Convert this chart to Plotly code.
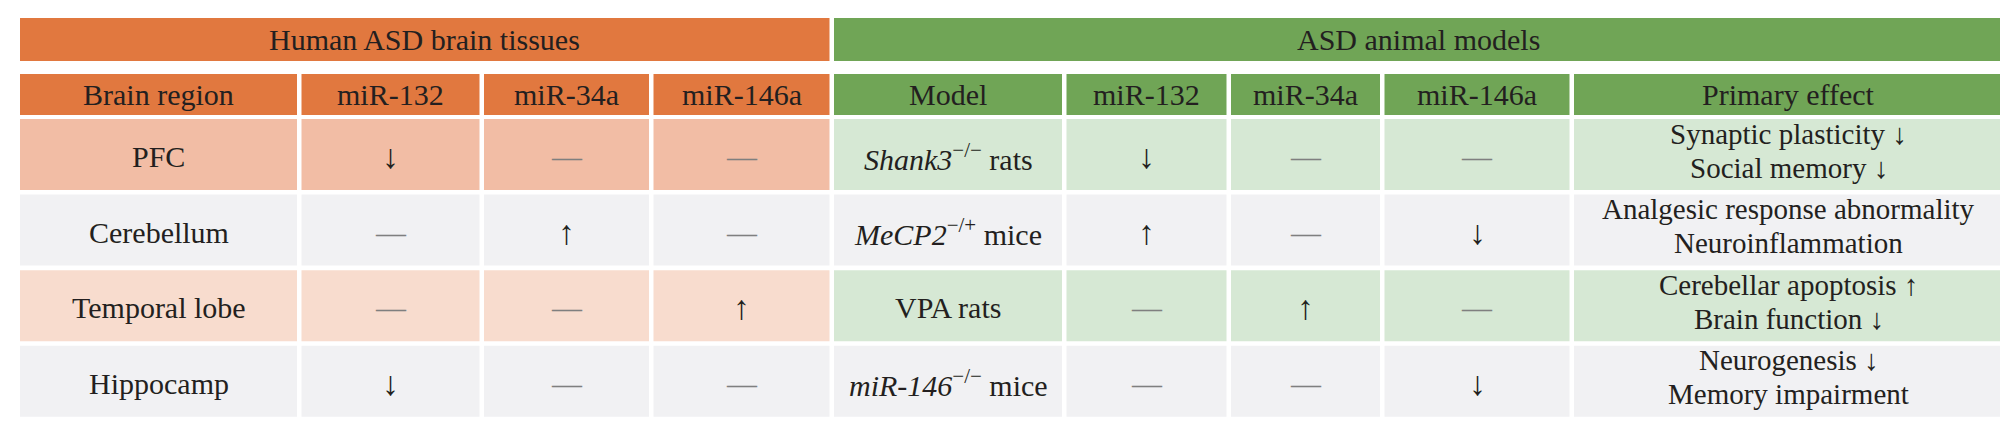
import plotly.graph_objects as go

# Données du tableau
group_titles = ["Human ASD brain tissues", "ASD animal models"]
column_titles = ["Brain region", "miR-132", "miR-34a", "miR-146a",
                 "Model", "miR-132", "miR-34a", "miR-146a", "Primary effect"]

brain_regions = ["PFC", "Cerebellum", "Temporal lobe", "Hippocamp"]
human_mir132 = ["↓", "—", "—", "↓"]
human_mir34a = ["—", "↑", "—", "—"]
human_mir146a = ["—", "—", "↑", "—"]

models = ["<i>Shank3</i><sup>−/−</sup> rats",
          "<i>MeCP2</i><sup>−/+</sup> mice",
          "VPA rats",
          "<i>miR-146</i><sup>−/−</sup> mice"]
animal_mir132 = ["↓", "↑", "—", "—"]
animal_mir34a = ["—", "—", "↑", "—"]
animal_mir146a = ["—", "↓", "—", "↓"]
primary_effects = [
    ["Synaptic plasticity ↓", "Social memory ↓"],
    ["Analgesic response abnormality", "Neuroinflammation"],
    ["Cerebellar apoptosis ↑", "Brain function ↓"],
    ["Neurogenesis ↓", "Memory impairment"],
]

columns = [brain_regions, human_mir132, human_mir34a, human_mir146a,
           models, animal_mir132, animal_mir34a, animal_mir146a, primary_effects]

# Mise en page (pixels)
W, H = 2008, 422
col_widths = [277, 178, 165, 176, 228, 160, 149, 185, 429]
gap = 4.5
left = 12
band_top, band_h = 10, 43
head_top, head_h = 66, 41
row_top, row_h, row_pitch = 111, 71, 75.6

ORANGE = "#E1783F"
GREEN = "#70A556"
human_fills = ["#F2BDA5", "#F1F1F3", "#F8DCCE", "#F1F1F3"]
animal_fills = ["#D6E8D4", "#F1F1F3", "#D6E8D4", "#F1F1F3"]
TXT = "#231F20"
DASH = "#7F7F7F"
FONT = "Liberation Serif"
FS = 30

x0s = []
x = left
for w in col_widths:
    x0s.append(x)
    x += w + gap
x1s = [a + w for a, w in zip(x0s, col_widths)]

fig = go.Figure()
shapes = []
annotations = []


def rect(xa, xb, ya, yb, color):
    shapes.append(dict(type="rect", xref="x", yref="y", x0=xa, x1=xb, y0=ya, y1=yb,
                       fillcolor=color, line=dict(width=0), layer="below"))


def label(xc, yc, text, color=TXT, size=FS):
    annotations.append(dict(x=xc, y=yc, xref="x", yref="y", text=text, showarrow=False,
                            xanchor="center", yanchor="middle",
                            font=dict(family=FONT, size=size, color=color)))


# Bandeaux de groupes
groups = [(0, 3, ORANGE), (4, 8, GREEN)]
for (c0, c1, col), title in zip(groups, group_titles):
    rect(x0s[c0], x1s[c1], band_top, band_top + band_h, col)
    label((x0s[c0] + x1s[c1]) / 2, band_top + band_h / 2, title)

# En-têtes de colonnes
for j, title in enumerate(column_titles):
    col = ORANGE if j < 4 else GREEN
    rect(x0s[j], x1s[j], head_top, head_top + head_h, col)
    label((x0s[j] + x1s[j]) / 2, head_top + head_h / 2, title)

# Cellules
for j, values in enumerate(columns):
    fills = human_fills if j < 4 else animal_fills
    xc = (x0s[j] + x1s[j]) / 2
    for i, v in enumerate(values):
        y0 = row_top + i * row_pitch
        rect(x0s[j], x1s[j], y0, y0 + row_h, fills[i])
        yc = y0 + row_h / 2
        if isinstance(v, list):
            label(xc, yc - 21, v[0], size=29)
            label(xc, yc + 13, v[1], size=29)
        elif v == "—":
            label(xc, yc + 2, v, color=DASH)
        elif v in ("↑", "↓"):
            label(xc, yc + 2, v, size=34)
        else:
            label(xc, yc + 2, v)

fig.update_layout(
    width=W, height=H,
    margin=dict(l=0, r=0, t=0, b=0),
    paper_bgcolor="white", plot_bgcolor="white",
    xaxis=dict(range=[0, W], visible=False, fixedrange=True),
    yaxis=dict(range=[H, 0], visible=False, fixedrange=True),
    shapes=shapes, annotations=annotations,
    showlegend=False,
)

fig.write_html("out.html")
